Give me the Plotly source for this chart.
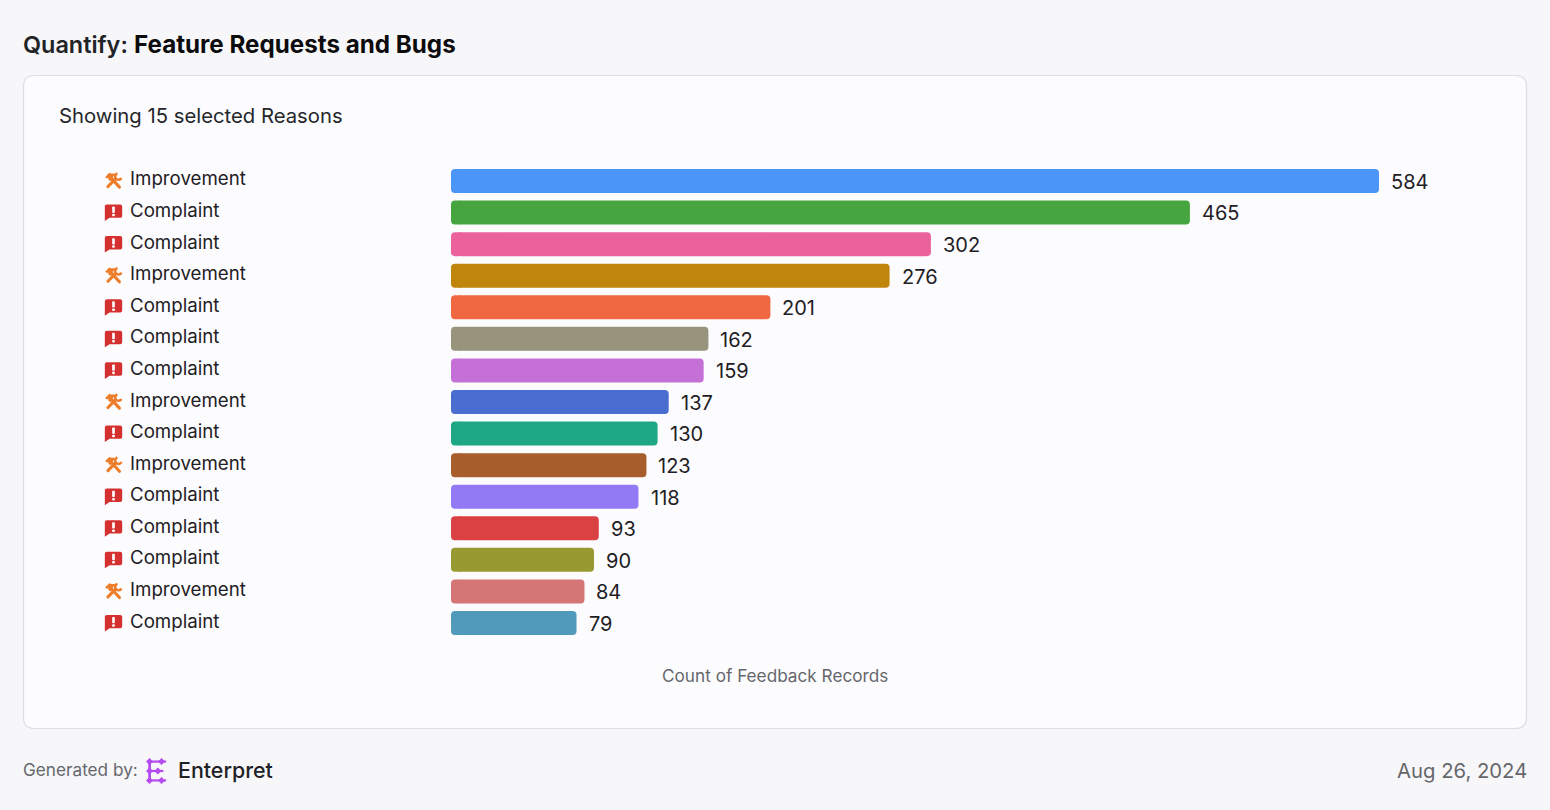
import base64
import plotly.graph_objects as go

# ---- data ----
reasons = ["Improvement", "Complaint", "Complaint", "Improvement", "Complaint",
           "Complaint", "Complaint", "Improvement", "Complaint", "Improvement",
           "Complaint", "Complaint", "Complaint", "Improvement", "Complaint"]
counts = [584, 465, 302, 276, 201, 162, 159, 137, 130, 123, 118, 93, 90, 84, 79]
colors = ["#4a95f6", "#46a53f", "#eb619c", "#c0850b", "#f06842",
          "#97937d", "#c570d7", "#4a6ecf", "#1da784", "#a75d2c",
          "#927af4", "#d94143", "#999932", "#d37675", "#519abc"]
title_a = "Quantify:"
title_b = "Feature Requests and Bugs"
subtitle = "Showing 15 selected Reasons"
axis_title = "Count of Feedback Records"
date_text = "Aug 26, 2024"

W, H = 1550, 810
FONT = "Inter"
INK = "#1f2024"
GREY = "#66676c"
PAD = 2  # annotation box padding in px


def px(x):
    return x / W


def py(y):
    return 1 - y / H


def uri(svg):
    return "data:image/svg+xml;base64," + base64.b64encode(svg.encode()).decode()


WRENCH = uri('''<svg xmlns="http://www.w3.org/2000/svg" viewBox="0 0 24 24">
<g fill="none" stroke="#ee7d2b" stroke-linecap="round">
<path d="M8.5 8.5 19.5 20.5" stroke-width="4"/>
<path d="M14.5 10 5 19.8" stroke-width="4"/>
<path d="M15.8 3.6a4.6 4.6 0 0 0-1 6 4.6 4.6 0 0 0 6.6.4" stroke-width="3.2"/>
</g>
<path fill="#ee7d2b" d="M1.5 7.6 6.6 2.4 9 3.4h4.2l1 1.2-3.2 3-.2 2.2-3.2 3.2-2.2-2.2.1-2-2.3.7z"/></svg>''')
BUBBLE = uri('''<svg xmlns="http://www.w3.org/2000/svg" viewBox="0 0 24 24">
<path fill="#d4302f" d="M3.5 2.5h17A2.5 2.5 0 0 1 23 5v12a2.5 2.5 0 0 1-2.5 2.5H7L1 23.5V5a2.5 2.5 0 0 1 2.5-2.5z"/>
<rect x="10.3" y="5.2" width="3.4" height="8" rx="1" fill="#fff"/><rect x="10.3" y="14.3" width="3.4" height="3.2" rx="1" fill="#fff"/></svg>''')
LOGO = uri('''<svg xmlns="http://www.w3.org/2000/svg" viewBox="0 0 26 30">
<g fill="#b44cf0"><rect x="4.6" y="3" width="3" height="24"/><rect x="4" y="3.6" width="20" height="2.4"/>
<rect x="4" y="13.8" width="17" height="2.4"/><rect x="4" y="24" width="20" height="2.4"/>
<path d="M19 1l3.8 3.8-3.8 3.8-3.8-3.8zM6 1l3.8 3.8L6 8.6 2.2 4.8zM6 11.2 9.8 15 6 18.8 2.2 15zM15 11.2l3.8 3.8-3.8 3.8-3.8-3.8zM6 21.4l3.8 3.8L6 29l-3.8-3.8zM19 21.4l3.8 3.8-3.8 3.8-3.8-3.8z"/></g></svg>''')

ys = list(range(len(counts)))
scale = 928 / 584            # pixels per count
plot_l, plot_r, plot_t, plot_b = 451, 1491, 165.2, 638.8
cap = 6 / scale              # length of the left end piece, in counts

fig = go.Figure()
# left end piece: runs towards zero, so its outer (rounded) end is on the left
fig.add_trace(go.Bar(x=[-2 * cap] * len(counts), base=[2 * cap] * len(counts), y=ys, orientation="h",
                     marker=dict(color=colors, line_width=0), width=0.76, hoverinfo="skip"))
# main bar: outer (rounded) end lands on the value
fig.add_trace(go.Bar(x=[c - cap for c in counts], base=[cap] * len(counts), y=ys, orientation="h",
                     marker=dict(color=colors, line_width=0), width=0.76, hoverinfo="skip"))


def note(text, x, y, size, color=INK, anchor="left", weight=400):
    shift = {"left": -PAD, "right": PAD, "center": 0}[anchor]
    return dict(text=text, x=px(x), y=py(y), xref="paper", yref="paper", showarrow=False,
                xanchor=anchor, yanchor="middle", xshift=shift,
                font=dict(family=FONT, size=size, color=color, weight=weight))


annotations = [
    note(title_a, 23, 44.5, 23.4, "#222327", weight=600),
    note(title_b, 133.6, 44.5, 24.2, "#0c0c0e", weight=700),
    note(subtitle, 59, 115.2, 20.3, "#25262a"),
    note(axis_title, 775, 675.5, 17.2, GREY, anchor="center"),
    note("Generated by:", 23, 769.5, 17.2, GREY),
    note("Enterpret", 178, 769.5, 21.4, "#202126", weight=500),
    note(date_text, 1527, 770, 20.3, GREY, anchor="right"),
]
images = [dict(source=LOGO, xref="paper", yref="paper", x=px(144), y=py(757),
               sizex=px(168) - px(144), sizey=py(757) - py(785),
               xanchor="left", yanchor="top", sizing="contain", layer="above")]
for i, (r, c) in enumerate(zip(reasons, counts)):
    annotations.append(dict(text=r, x=px(130), y=i, xref="paper", yref="y", showarrow=False,
                            xanchor="left", yanchor="middle", xshift=-PAD, yshift=2,
                            font=dict(family=FONT, size=18.7, color=INK)))
    annotations.append(dict(text=str(c), x=c, y=i, xref="x", yref="y", showarrow=False,
                            xanchor="left", yanchor="middle", xshift=10, yshift=-0.8,
                            font=dict(family=FONT, size=20, color=INK)))
    images.append(dict(source=WRENCH if r == "Improvement" else BUBBLE,
                       xref="paper", yref="y", x=px(104), y=i - 0.02,
                       sizex=px(19), sizey=0.6, xanchor="left", yanchor="middle",
                       sizing="contain", layer="above"))

# rounded card
x0, x1, y0, y1, r = 23.5, 1526.5, 75.5, 728.5, 11
card = (f"M {px(x0 + r)} {py(y0)} L {px(x1 - r)} {py(y0)} "
        f"Q {px(x1)} {py(y0)} {px(x1)} {py(y0 + r)} L {px(x1)} {py(y1 - r)} "
        f"Q {px(x1)} {py(y1)} {px(x1 - r)} {py(y1)} L {px(x0 + r)} {py(y1)} "
        f"Q {px(x0)} {py(y1)} {px(x0)} {py(y1 - r)} L {px(x0)} {py(y0 + r)} "
        f"Q {px(x0)} {py(y0)} {px(x0 + r)} {py(y0)} Z")

fig.update_layout(
    width=W, height=H, margin=dict(l=0, r=0, t=0, b=0),
    paper_bgcolor="#f7f7f9", plot_bgcolor="rgba(0,0,0,0)",
    showlegend=False, barmode="overlay", barcornerradius=4,
    font=dict(family=FONT, color=INK),
    xaxis=dict(domain=[px(plot_l), px(plot_r)], range=[0, (plot_r - plot_l) / scale],
               visible=False, fixedrange=True),
    yaxis=dict(domain=[py(plot_b), py(plot_t)], range=[len(counts) - 0.5, -0.5],
               visible=False, fixedrange=True),
    annotations=annotations, images=images,
    shapes=[dict(type="path", path=card, xref="paper", yref="paper", layer="below",
                 fillcolor="#fcfcff", line=dict(color="#dcdee1", width=1.2))],
)
fig.write_html("out.html", config=dict(displayModeBar=False),
               post_script="document.body.style.margin='0';document.body.style.background='#f7f7f9';")
